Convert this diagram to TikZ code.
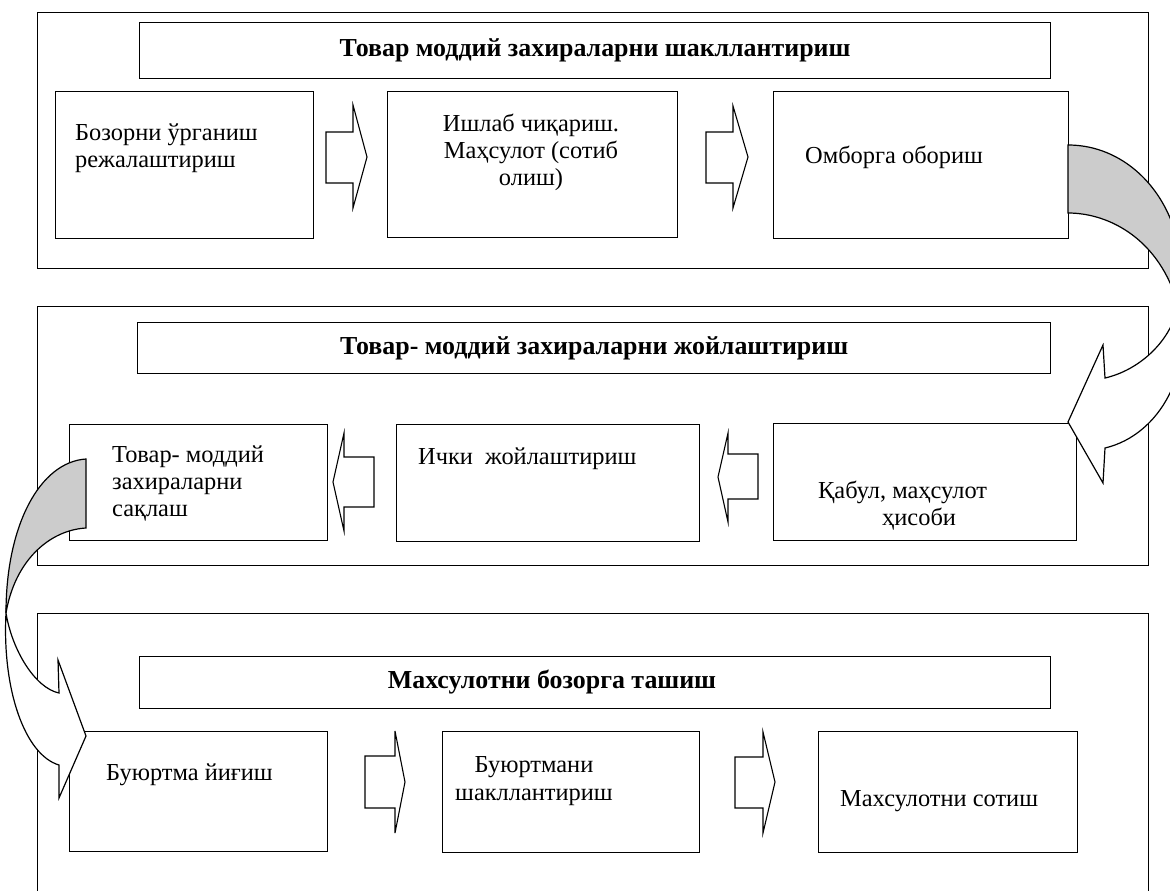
\documentclass[tikz,border=0pt]{standalone}
\usepackage{fontspec}
\setmainfont{Liberation Serif}
\begin{document}
\begin{tikzpicture}[x=1bp,y=-1bp,
  frame/.style={draw, line width=1.7bp},
  box/.style={draw, line width=1.2bp, inner sep=0pt, anchor=north west},
  ttl/.style={box, font=\fontsize{26}{30}\selectfont\bfseries},
  ttltxt/.style={font=\fontsize{26}{30}\selectfont\bfseries, inner sep=0pt},
  txt/.style={font=\fontsize{24.5}{28}\selectfont, inner sep=0pt, anchor=base west},
  ctxt/.style={txt, anchor=base},
  blk/.style={draw, line width=1.1bp, fill=white, line join=miter},
  curv/.style={draw, line width=1.2bp, line join=miter},
]
\useasboundingbox (0,0) rectangle (1170,891);
\fill[white] (0,0) rectangle (1170,891);

% frames
\node[frame, box, minimum width=1111bp, minimum height=256bp] (F1) at (37,12) {};
\node[frame, box, minimum width=1111bp, minimum height=259bp] (F2) at (37,306) {};
\node[frame, box, minimum width=1111bp, minimum height=300bp] (F3) at (37,613) {};

% titles
\node[ttl, minimum width=911bp, minimum height=56bp] (T1) at (139,22) {Товар моддий захираларни шакллантириш};
\node[ttl, minimum width=913bp, minimum height=51bp] (T2) at (137,322) {Товар- моддий захираларни жойлаштириш};
\node[ttl, minimum width=911bp, minimum height=52bp] (T3) at (139,656) {};
\node[ttltxt] (t3) at (552,682) {Махсулотни бозорга ташиш};

% row 1
\node[box, minimum width=258bp, minimum height=147bp] (A) at (55,91) {};
\node[box, minimum width=290bp, minimum height=146bp] (B) at (387,91) {};
\node[box, minimum width=295bp, minimum height=147bp] (C) at (773,91) {};
\node[txt] (a1) at (75,140) {Бозорни ўрганиш};
\node[txt] (a2) at (75,167) {режалаштириш};
\node[ctxt] (b1) at (531,131) {Ишлаб чиқариш.};
\node[ctxt] (b2) at (531,158) {Маҳсулот (сотиб};
\node[ctxt] (b3) at (531,185) {олиш)};
\node[txt] (c1) at (805,163) {Омборга обориш};

% row 2
\node[box, minimum width=258bp, minimum height=116bp] (D) at (69,424) {};
\node[box, minimum width=303bp, minimum height=117bp] (E) at (396,424) {};
\node[box, minimum width=303bp, minimum height=117bp] (Fb) at (773,423) {};
\node[txt] (d1) at (112,462) {Товар- моддий};
\node[txt] (d2) at (112,489) {захираларни};
\node[txt] (d3) at (112,516) {сақлаш};
\node[txt] (e1) at (418,464) {Ички\ \ жойлаштириш};
\node[txt] (f1) at (818,498) {Қабул, маҳсулот};
\node[txt] (f2) at (882,525) {ҳисоби};

% row 3
\node[box, minimum width=258bp, minimum height=120bp] (G) at (69,731) {};
\node[box, minimum width=257bp, minimum height=121bp] (H) at (442,731) {};
\node[box, minimum width=259bp, minimum height=121bp] (I) at (818,731) {};
\node[txt] (g1) at (106,780) {Буюртма йиғиш};
\node[ctxt] (h1) at (534,772) {Буюртмани};
\node[ctxt] (h2) at (534,800) {шакллантириш};
\node[txt] (i1) at (840,806) {Махсулотни сотиш};

% block arrows row 1 (right)
\draw[blk] (326,132) -- (353,132) -- (353,105) -- (367,157) -- (353,208) -- (353,183) -- (326,183) -- cycle;
\draw[blk] (706,132) -- (733,132) -- (733,106) -- (748,157) -- (733,208) -- (733,183) -- (706,183) -- cycle;
% block arrows row 2 (left)
\draw[blk] (374,457) -- (344,457) -- (344,433) -- (333,482) -- (344,531) -- (344,507) -- (374,507) -- cycle;
\draw[blk] (758,454) -- (728,454) -- (728,433) -- (718,477) -- (728,522) -- (728,499) -- (758,499) -- cycle;
% block arrows row 3 (right)
\draw[blk] (365,756) -- (395,756) -- (395,731) -- (405,782) -- (395,833) -- (395,808) -- (365,808) -- cycle;
\draw[blk] (735,757) -- (763,757) -- (763,732) -- (775,782) -- (763,833) -- (763,808) -- (735,808) -- cycle;

% curved arrow right: back (gray) and front (white)
\coordinate (P) at (1178,305);
\draw[curv, fill=black!20] (1068,145) .. controls (1140,145) and (1195,220) .. (P)
   .. controls (1160,240) and (1110,213) .. (1068,213) -- cycle;
\draw[curv, fill=white] (P) .. controls (1172,340) and (1140,370) .. (1105,378)
   -- (1103,345) -- (1068,422) -- (1103,483) -- (1105,448)
   .. controls (1160,435) and (1195,370) .. (P) -- cycle;

% curved arrow left
\coordinate (Q) at (6,613);
\draw[curv, fill=black!20] (86,459) .. controls (40,462) and (6,525) .. (Q)
   .. controls (15,560) and (50,530) .. (86,528) -- cycle;
\draw[curv, fill=white] (Q) .. controls (12,650) and (35,688) .. (59,693)
   -- (58,660) -- (86,736) -- (59,798) -- (59,765)
   .. controls (25,755) and (2,690) .. (Q) -- cycle;
\end{tikzpicture}
\end{document}
